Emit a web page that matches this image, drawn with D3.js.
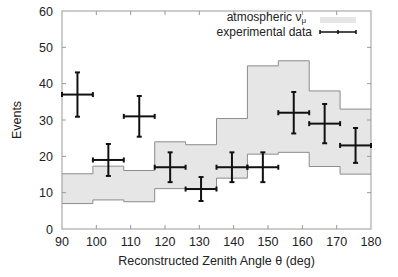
<!DOCTYPE html>
<html>
<head>
<meta charset="utf-8">
<script src="https://cdn.jsdelivr.net/npm/d3@7"></script>
<style>
  body { margin: 0; background: #fff; }
  svg { display: block; font-family: "Liberation Sans", Arial, sans-serif; }
</style>
</head>
<body>
<svg id="chart" width="398" height="277"></svg>
<script>
// bin edges of the zenith-angle histogram (deg)
const binEdges = [90, 99, 108, 117, 126, 135, 144, 153, 162, 171, 180]
// atmospheric nu_mu expectation band, per bin
const bandLow = [7, 8, 7.5, 11.1, 11, 14, 20.6, 21.1, 17.2, 15.1]
const bandHigh = [15.2, 17.3, 16.1, 24, 23.2, 30.4, 44.9, 46.3, 38, 33]
// experimental data points
const angles = [94.5, 103.5, 112.5, 121.5, 130.5, 139.5, 148.5, 157.5, 166.5, 175.5]
const events = [37, 19, 31, 17, 11, 17, 17, 32, 29, 23]
const errors = [6.1, 4.4, 5.6, 4.1, 3.3, 4.1, 4.1, 5.7, 5.4, 4.8]
const binHalf = 4.5

const xTicks = [90, 100, 110, 120, 130, 140, 150, 160, 170, 180]
const yTicks = [0, 10, 20, 30, 40, 50, 60]

const margin = { top: 11, right: 27, bottom: 48, left: 62 }
const width = 398, height = 277
const svg = d3.select("#chart")

const x = d3.scaleLinear().domain([90, 180]).range([margin.left, width - margin.right])
const y = d3.scaleLinear().domain([0, 60]).range([height - margin.bottom, margin.top])

// step outline points for the band
const stepPts = vals => vals.flatMap((v, i) => [[binEdges[i], v], [binEdges[i + 1], v]])
const lowPts = stepPts(bandLow)
const highPts = stepPts(bandHigh)

svg.append("path")
  .datum(lowPts.map((p, i) => ({ x: p[0], lo: p[1], hi: highPts[i][1] })))
  .attr("fill", "#e6e6e6")
  .attr("d", d3.area().x(d => x(d.x)).y0(d => y(d.lo)).y1(d => y(d.hi)))

const stepLine = d3.line().x(d => x(d[0])).y(d => y(d[1]))
;[lowPts, highPts].forEach(pts => {
  svg.append("path")
    .datum(pts)
    .attr("fill", "none")
    .attr("stroke", "#8c8c8c")
    .attr("stroke-width", 1)
    .attr("d", stepLine)
})

// frame
const x0 = x.range()[0], x1 = x.range()[1], y0 = y.range()[0], y1 = y.range()[1]
svg.append("rect")
  .attr("x", x0).attr("y", y1)
  .attr("width", x1 - x0).attr("height", y0 - y1)
  .attr("fill", "none").attr("stroke", "#999").attr("stroke-width", 1)

// inward ticks on all sides, gnuplot style
const tickLen = 4
const ticks = svg.append("g").attr("stroke", "#999").attr("stroke-width", 1)
xTicks.slice(1, -1).forEach(t => {
  ticks.append("line").attr("x1", x(t)).attr("x2", x(t)).attr("y1", y0).attr("y2", y0 - tickLen)
  ticks.append("line").attr("x1", x(t)).attr("x2", x(t)).attr("y1", y1).attr("y2", y1 + tickLen)
})
yTicks.slice(1, -1).forEach(t => {
  ticks.append("line").attr("x1", x0).attr("x2", x0 + tickLen).attr("y1", y(t)).attr("y2", y(t))
  ticks.append("line").attr("x1", x1).attr("x2", x1 - tickLen).attr("y1", y(t)).attr("y2", y(t))
})

// tick labels
svg.append("g").selectAll("text")
  .data(xTicks).join("text")
  .attr("x", d => x(d)).attr("y", y0 + 17)
  .attr("text-anchor", "middle").attr("font-size", 12.5).attr("fill", "#222")
  .text(d => d)
svg.append("g").selectAll("text")
  .data(yTicks).join("text")
  .attr("x", x0 - 9).attr("y", d => y(d) + 4.5)
  .attr("text-anchor", "end").attr("font-size", 12.5).attr("fill", "#222")
  .text(d => d)

// axis titles
svg.append("text")
  .attr("x", (x0 + x1) / 2).attr("y", 265)
  .attr("text-anchor", "middle").attr("font-size", 12.5).attr("fill", "#222")
  .text("Reconstructed Zenith Angle \u03b8 (deg)")
svg.append("text")
  .attr("transform", `translate(21,${(y0 + y1) / 2}) rotate(-90)`)
  .attr("text-anchor", "middle").attr("font-size", 12.5).attr("fill", "#222")
  .text("Events")

// data points with error bars
const cap = 2.5
const pts = svg.append("g").attr("stroke", "#111").attr("stroke-width", 2)
angles.forEach((a, i) => {
  const cx = x(a), cy = y(events[i])
  const xl = x(a - binHalf), xr = x(a + binHalf)
  const yt = y(events[i] + errors[i]), yb = y(events[i] - errors[i])
  pts.append("line").attr("x1", xl).attr("x2", xr).attr("y1", cy).attr("y2", cy)
  pts.append("line").attr("x1", cx).attr("x2", cx).attr("y1", yt).attr("y2", yb)
  pts.append("line").attr("x1", xl).attr("x2", xl).attr("y1", cy - cap).attr("y2", cy + cap)
  pts.append("line").attr("x1", xr).attr("x2", xr).attr("y1", cy - cap).attr("y2", cy + cap)
  pts.append("line").attr("x1", cx - cap).attr("x2", cx + cap).attr("y1", yt).attr("y2", yt)
  pts.append("line").attr("x1", cx - cap).attr("x2", cx + cap).attr("y1", yb).attr("y2", yb)
})

// legend
const legend = svg.append("g").attr("font-size", 12).attr("fill", "#222")
const lt1 = legend.append("text").attr("x", 306).attr("y", 20.5).attr("text-anchor", "end")
lt1.append("tspan").text("atmospheric \u03bd")
lt1.append("tspan").attr("font-size", 8).attr("dy", 2.5).text("\u03bc")
legend.append("text").attr("x", 312).attr("y", 35.5).attr("text-anchor", "end")
  .text("experimental data")
legend.append("rect").attr("x", 320).attr("y", 17).attr("width", 36).attr("height", 6)
  .attr("fill", "#e6e6e6")
const lg = legend.append("g").attr("stroke", "#111").attr("stroke-width", 1.5)
lg.append("line").attr("x1", 320).attr("x2", 356).attr("y1", 32).attr("y2", 32)
;[320, 338, 356].forEach(px => {
  lg.append("line").attr("x1", px).attr("x2", px).attr("y1", 30).attr("y2", 34)
})
</script>
</body>
</html>
